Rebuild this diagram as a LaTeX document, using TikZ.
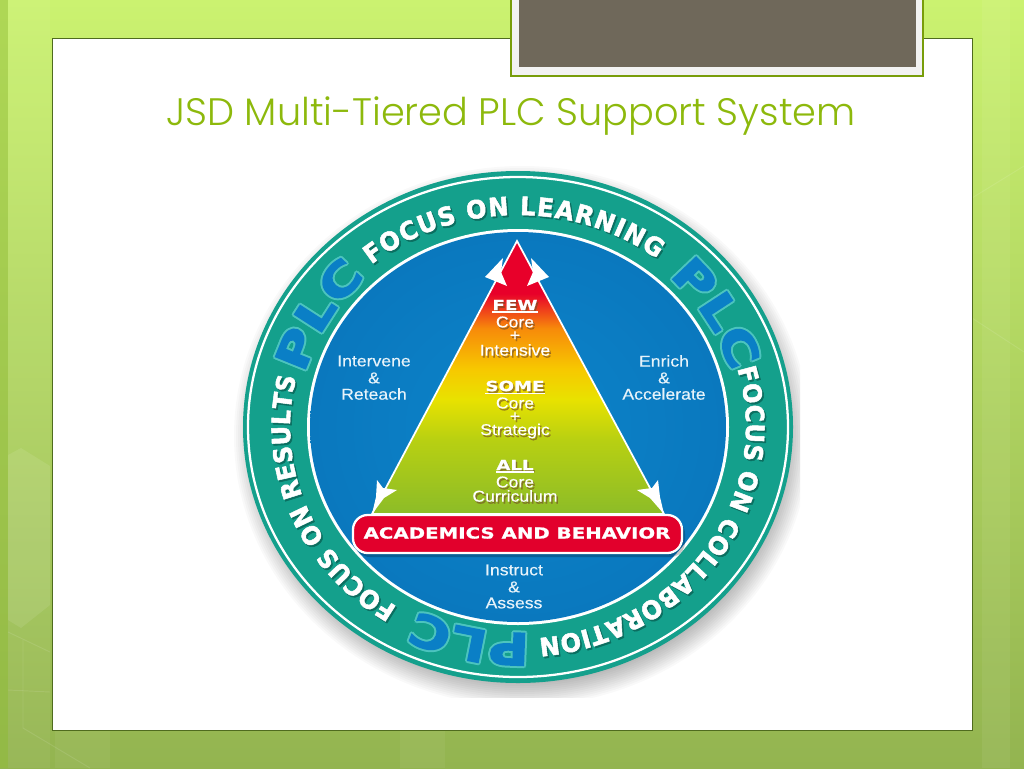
\documentclass[tikz,border=0pt]{standalone}
\usepackage{fontspec}
\usetikzlibrary{decorations.text, positioning}
\setmainfont{Liberation Sans}
\newfontfamily\titlefont{Poppins Light}
\newfontfamily\labelfont[FakeStretch=1.12,FakeBold=0.3]{Liberation Sans}
\newfontfamily\ringfont[FakeStretch=0.95,FakeBold=2]{DejaVu Sans Bold}
\newfontfamily\plcfont[FakeStretch=1.25,FakeBold=3.5]{DejaVu Sans Bold}
\newfontfamily\headfont[FakeStretch=1.3,FakeBold=1]{DejaVu Sans Bold}
\definecolor{pagetop}{HTML}{CBF270}
\definecolor{pagelow}{HTML}{93B450}
\definecolor{pageleft}{HTML}{93BE3C}
\definecolor{panelline}{HTML}{4F6B1E}
\definecolor{titlegreen}{HTML}{8DB90C}
\definecolor{tabbrown}{HTML}{6F685A}
\definecolor{ringteal}{HTML}{14A08C}
\definecolor{ringdark}{HTML}{0B6E60}
\definecolor{plcglow}{HTML}{4CC4BE}
\definecolor{plcblue}{HTML}{0A7FC6}
\definecolor{discblue}{HTML}{0C84CA}
\definecolor{discedge}{HTML}{0A78BE}
\definecolor{barred}{HTML}{E2002C}
\definecolor{pyrred}{HTML}{E8002A}
\definecolor{pyrorange}{HTML}{F78A0A}
\definecolor{pyramber}{HTML}{F7C800}
\definecolor{pyryellow}{HTML}{E8E200}
\definecolor{pyrlime}{HTML}{B8D012}
\definecolor{pyrgreen}{HTML}{8CBC28}
\pgfdeclareverticalshading{pyramidshade}{100bp}{
  color(0bp)=(pyrgreen); color(25bp)=(pyrgreen); color(38.6bp)=(pyrlime); color(46bp)=(pyryellow);
  color(51.6bp)=(pyramber); color(59bp)=(pyrorange); color(65.4bp)=(pyrred); color(100bp)=(pyrred)}
\tikzset{
  pyrtext/.style={font=\labelfont\fontsize{11.8}{13}\selectfont, text=white, inner sep=0pt},
  pyrhead/.style={font=\headfont\fontsize{10.5}{12}\selectfont, text=white, inner sep=0pt},
  disctext/.style={font=\labelfont\fontsize{11.8}{13}\selectfont, text=white!90!discblue},
  pagehex/.style={white, opacity=0.10, line width=0.7pt},
  barb/.style={fill=white, draw=none}
}
% ring lettering runs clockwise, angles read with y upward
\newcommand\ringarc[3]{
  \begin{scope}[y=0.75pt, shift={(519.6,-428.8)}]
    \path[decorate, decoration={text along path, text align=fit to path,
      text={|\ringfont\fontsize{19}{20}\selectfont\color{ringdark}|#3{\ }}}]
      (#1:228 and 212) arc[start angle=#1, end angle=#2, x radius=228, y radius=212];
  \end{scope}
  \begin{scope}[y=0.75pt, shift={(518,-427)}]
    \path[decorate, decoration={text along path, text align=fit to path,
      text={|\ringfont\fontsize{19}{20}\selectfont\color{white}|#3{\ }}}]
      (#1:228 and 212) arc[start angle=#1, end angle=#2, x radius=228, y radius=212];
  \end{scope}
}
\newcommand\plcarc[2]{
  \foreach \dx/\dy in {-2/0,2/0,0/-2,0/2,-1.4/-1.4,1.4/1.4,-1.4/1.4,1.4/-1.4}{
    \begin{scope}[y=0.75pt, shift={(518+\dx,-427+\dy)}]
      \path[decorate, decoration={text along path, text align=fit to path,
        text={|\plcfont\fontsize{33}{35}\selectfont\color{plcglow}|PLC{\ }}}]
        (#1:221 and 206) arc[start angle=#1, end angle=#2, x radius=221, y radius=206];
    \end{scope}
  }
  \begin{scope}[y=0.75pt, shift={(518,-427)}]
    \path[decorate, decoration={text along path, text align=fit to path,
      text={|\plcfont\fontsize{33}{35}\selectfont\color{plcblue}|PLC{\ }}}]
      (#1:221 and 206) arc[start angle=#1, end angle=#2, x radius=221, y radius=206];
  \end{scope}
}
% label with a dark drop copy, underline is drawn apart
\newcommand\pyrlabel[5]{
  \node[#2, text=brown!60!black, opacity=0.6] (#1drop) at (#3+1.5,#4+2) {#5};
  \node[#2] (#1) at (#3,#4) {#5};
}
\begin{document}
\begin{tikzpicture}[x=0.75pt, y=-0.75pt]
  \useasboundingbox (0,0) rectangle (1024,768);
  \shade[top color=pagetop, bottom color=pagelow] (0,0) rectangle (1024,768);
  \fill[pageleft, opacity=0.5] (0,0) rectangle (8,768);
  % faint page bands and hexagons
  \fill[white, opacity=0.05] (8,0) rectangle (50,768);
  \fill[white, opacity=0.06] (982,0) rectangle (1010,768);
  \fill[white, opacity=0.05] (55,730) rectangle (110,768);
  \fill[white, opacity=0.05] (400,730) rectangle (445,768);
  \fill[white, opacity=0.09] (8,455) -- (21,448) -- (50,466) -- (50,605) -- (21,628) -- (8,620) -- cycle;
  \draw[pagehex] (23,640) -- (23,728) -- (90,768);
  \draw[pagehex] (8,632) -- (50,652);
  \draw[pagehex] (8,690) -- (50,692);
  \draw[pagehex] (972,198) -- (1024,166);
  \draw[pagehex] (972,318) -- (1024,352);
  % panel and tab
  \draw[draw=panelline, fill=white, line width=0.6pt] (52,38) rectangle (972,730);
  \draw[draw=titlegreen!85!black, fill=white!95!black, line width=1.2pt] (511,-3) rectangle (923,76);
  \fill[tabbrown] (519,-3) rectangle (916,67);
  \node[font=\titlefont\fontsize{28.7}{32}\selectfont, text=titlegreen] (title) at (511,116) {JSD Multi-Tiered PLC Support System};
  % soft shadow
  \begin{scope}
    \clip (230,160) rectangle (800,697);
    \foreach \i in {0,...,13}
      \fill[black, opacity=0.025] (522,436) ellipse ({288-\i*2} and {270-\i*2});
  \end{scope}
  % disc
  \fill[ringteal] (518,427) ellipse (275 and 256);
  \draw[white, line width=1.7pt] (518,427) ellipse (270 and 250);
  \fill[white] (518,427) ellipse (211 and 198);
  \shade[inner color=discblue, outer color=discedge] (518,427) ellipse (208 and 195);
  % ring lettering
  \plcarc{165}{130}
  \plcarc{47}{16}
  \plcarc{-87}{-122}
  \ringarc{130}{50}{FOCUS ON LEARNING}
  \ringarc{16}{-87}{FOCUS ON COLLABORATION}
  \ringarc{238}{166}{FOCUS ON RESULTS}
  % pyramid with its four barbs
  \path[shading=pyramidshade, draw=white, line width=1.3pt] (517,241) -- (372,514) -- (664,514) -- cycle;
  \path[barb] (503,258) -- (485,277) -- (507,286) -- (501,272) -- cycle;
  \path[barb] (531,258) -- (549,277) -- (527,286) -- (533,272) -- cycle;
  \path[barb] (377,480) -- (383,488) -- (397,490) -- (384,498) -- (372,514) -- (376,497) -- cycle;
  \path[barb] (658,480) -- (652,488) -- (637,490) -- (650,498) -- (664,514) -- (660,497) -- cycle;
  % bar
  \fill[black, opacity=0.22, rounded corners=11pt] (355,519) rectangle (685,557);
  \draw[white, fill=barred, line width=1.7pt, rounded corners=11pt] (353,515) rectangle (682,553);
  \node[font=\headfont\fontsize{11.4}{12}\selectfont, text=white] (barlabel) at (517,533) {ACADEMICS AND BEHAVIOR};
  % labels
  \pyrlabel{few}{pyrhead}{515}{305}{FEW}
  \draw[white, line width=0.9pt] ([yshift=-1.2pt]few.south west) -- ([yshift=-1.2pt]few.south east);
  \pyrlabel{fewa}{pyrtext}{515}{322}{Core}
  \pyrlabel{fewb}{pyrtext}{515}{336}{+}
  \pyrlabel{fewc}{pyrtext}{515}{350}{Intensive}
  \pyrlabel{some}{pyrhead}{515}{386}{SOME}
  \draw[white, line width=0.9pt] ([yshift=-1.2pt]some.south west) -- ([yshift=-1.2pt]some.south east);
  \pyrlabel{somea}{pyrtext}{515}{403}{Core}
  \pyrlabel{someb}{pyrtext}{515}{417}{+}
  \pyrlabel{somec}{pyrtext}{515}{431}{Strategic}
  \pyrlabel{all}{pyrhead}{515}{465}{ALL}
  \draw[white, line width=0.9pt] ([yshift=-1.2pt]all.south west) -- ([yshift=-1.2pt]all.south east);
  \pyrlabel{alla}{pyrtext}{515}{482}{Core}
  \pyrlabel{allb}{pyrtext}{515}{496}{Curriculum}
  \node[disctext] (left1) at (374,361) {Intervene};
  \node[disctext] (left2) at (374,378) {\&};
  \node[disctext] (left3) at (374,394) {Reteach};
  \node[disctext] (right1) at (664,361) {Enrich};
  \node[disctext] (right2) at (664,378) {\&};
  \node[disctext] (right3) at (664,394) {Accelerate};
  \node[disctext] (low1) at (514,570) {Instruct};
  \node[disctext] (low2) at (514,587) {\&};
  \node[disctext] (low3) at (514,603) {Assess};
\end{tikzpicture}
\end{document}
